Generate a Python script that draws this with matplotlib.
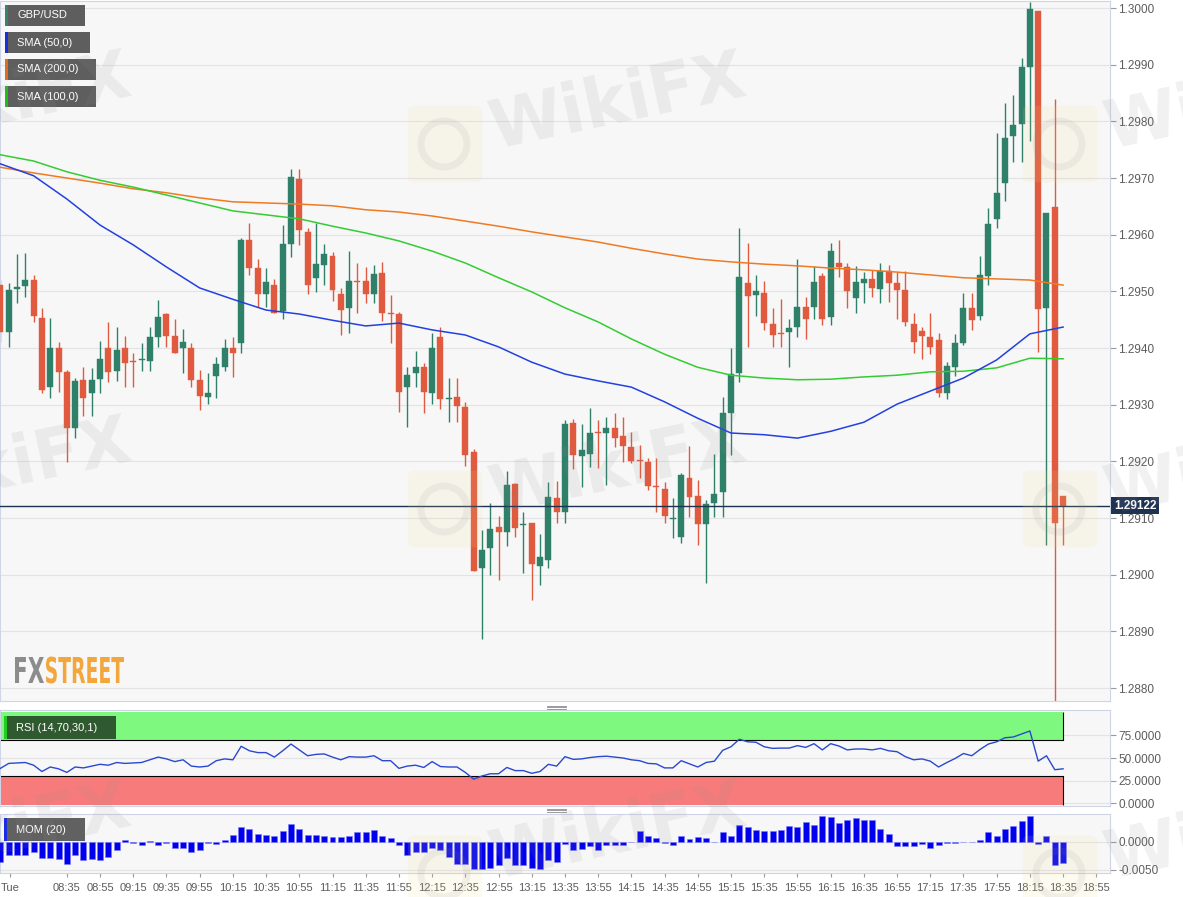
import numpy as np
import matplotlib
matplotlib.use("Agg")
import matplotlib.pyplot as plt
from matplotlib.patches import Rectangle, PathPatch, FancyBboxPatch, Ellipse
from matplotlib.lines import Line2D
from matplotlib.textpath import TextPath
from matplotlib.font_manager import FontProperties
from matplotlib.transforms import Affine2D, blended_transform_factory

plt.rcParams['font.family'] = ['Liberation Sans', 'DejaVu Sans']

# ---- data: GBP/USD 5-minute candles, 07:55 -> 18:35 ----
OPEN = [1.29511, 1.29428, 1.29504, 1.29509, 1.29520, 1.29453, 1.29331, 1.29400, 1.29358, 1.29259,
        1.29344, 1.29321, 1.29345, 1.29400, 1.29359, 1.29400, 1.29377, 1.29379, 1.29377, 1.29419,
        1.29460, 1.29421, 1.29400, 1.29400, 1.29344, 1.29314, 1.29351, 1.29366, 1.29400, 1.29409,
        1.29591, 1.29541, 1.29495, 1.29511, 1.29465, 1.29584, 1.29698, 1.29605, 1.29524, 1.29546,
        1.29562, 1.29495, 1.29471, 1.29518, 1.29518, 1.29495, 1.29532, 1.29462, 1.29460, 1.29331,
        1.29356, 1.29366, 1.29321, 1.29419, 1.29310, 1.29314, 1.29296, 1.29216, 1.29012, 1.29047,
        1.29084, 1.29075, 1.29160, 1.29088, 1.29091, 1.29015, 1.29026, 1.29135, 1.29111, 1.29268,
        1.29209, 1.29213, 1.29252, 1.29250, 1.29259, 1.29245, 1.29225, 1.29202, 1.29199, 1.29156,
        1.29151, 1.29098, 1.29066, 1.29171, 1.29139, 1.29089, 1.29127, 1.29146, 1.29285, 1.29356,
        1.29515, 1.29494, 1.29497, 1.29442, 1.29426, 1.29428, 1.29437, 1.29472, 1.29472, 1.29527,
        1.29455, 1.29550, 1.29543, 1.29488, 1.29515, 1.29522, 1.29504, 1.29536, 1.29515, 1.29502,
        1.29442, 1.29430, 1.29419, 1.29414, 1.29321, 1.29366, 1.29409, 1.29471, 1.29456, 1.29527,
        1.29628, 1.29691, 1.29774, 1.29795, 1.29896, 1.29995, 1.29471, 1.29649, 1.29139]
HIGH = [1.29520, 1.29515, 1.29566, 1.29568, 1.29529, 1.29471, 1.29453, 1.29411, 1.29361, 1.29347,
        1.29366, 1.29365, 1.29412, 1.29446, 1.29437, 1.29421, 1.29391, 1.29409, 1.29437, 1.29485,
        1.29462, 1.29451, 1.29434, 1.29409, 1.29361, 1.29356, 1.29384, 1.29416, 1.29419, 1.29594,
        1.29621, 1.29557, 1.29541, 1.29522, 1.29617, 1.29716, 1.29716, 1.29612, 1.29621, 1.29584,
        1.29569, 1.29506, 1.29571, 1.29550, 1.29543, 1.29546, 1.29552, 1.29494, 1.29464, 1.29366,
        1.29395, 1.29374, 1.29426, 1.29437, 1.29347, 1.29347, 1.29305, 1.29222, 1.29079, 1.29127,
        1.29104, 1.29183, 1.29162, 1.29111, 1.29091, 1.29072, 1.29164, 1.29165, 1.29273, 1.29275,
        1.29266, 1.29294, 1.29273, 1.29278, 1.29285, 1.29278, 1.29252, 1.29229, 1.29206, 1.29206,
        1.29164, 1.29135, 1.29179, 1.29227, 1.29167, 1.29132, 1.29213, 1.29314, 1.29400, 1.29612,
        1.29585, 1.29529, 1.29518, 1.29471, 1.29486, 1.29451, 1.29557, 1.29490, 1.29545, 1.29532,
        1.29585, 1.29591, 1.29550, 1.29545, 1.29534, 1.29538, 1.29550, 1.29546, 1.29534, 1.29536,
        1.29462, 1.29437, 1.29462, 1.29426, 1.29375, 1.29425, 1.29497, 1.29497, 1.29562, 1.29647,
        1.29779, 1.29832, 1.29846, 1.29912, 1.30011, 1.29995, 1.29638, 1.29839, 1.29139]
LOW = [1.29411, 1.29402, 1.29479, 1.29490, 1.29446, 1.29321, 1.29312, 1.29322, 1.29199, 1.29241,
       1.29280, 1.29280, 1.29321, 1.29340, 1.29342, 1.29331, 1.29331, 1.29359, 1.29359, 1.29402,
       1.29402, 1.29391, 1.29356, 1.29331, 1.29291, 1.29301, 1.29312, 1.29359, 1.29349, 1.29391,
       1.29529, 1.29472, 1.29472, 1.29462, 1.29451, 1.29561, 1.29582, 1.29495, 1.29499, 1.29511,
       1.29483, 1.29423, 1.29426, 1.29462, 1.29479, 1.29479, 1.29448, 1.29409, 1.29287, 1.29261,
       1.29331, 1.29285, 1.29301, 1.29292, 1.29269, 1.29269, 1.29192, 1.29006, 1.28886, 1.28999,
       1.28991, 1.29051, 1.29066, 1.29003, 1.28955, 1.28982, 1.29012, 1.29091, 1.29091, 1.29186,
       1.29155, 1.29190, 1.29188, 1.29158, 1.29225, 1.29199, 1.29197, 1.29171, 1.29149, 1.29111,
       1.29091, 1.29065, 1.29056, 1.29102, 1.29052, 1.28985, 1.29102, 1.29102, 1.29211, 1.29340,
       1.29402, 1.29456, 1.29432, 1.29402, 1.29402, 1.29366, 1.29419, 1.29416, 1.29451, 1.29441,
       1.29441, 1.29525, 1.29471, 1.29462, 1.29479, 1.29490, 1.29479, 1.29481, 1.29451, 1.29439,
       1.29391, 1.29381, 1.29389, 1.29314, 1.29310, 1.29351, 1.29405, 1.29432, 1.29449, 1.29511,
       1.29612, 1.29659, 1.29728, 1.29728, 1.29765, 1.29393, 1.29052, 1.28775, 1.29052]
CLOSE = [1.29428, 1.29502, 1.29508, 1.29520, 1.29456, 1.29326, 1.29400, 1.29358, 1.29259, 1.29342,
         1.29312, 1.29344, 1.29381, 1.29358, 1.29396, 1.29374, 1.29375, 1.29381, 1.29419, 1.29455,
         1.29421, 1.29391, 1.29411, 1.29344, 1.29315, 1.29321, 1.29372, 1.29400, 1.29391, 1.29591,
         1.29541, 1.29495, 1.29516, 1.29462, 1.29584, 1.29702, 1.29608, 1.29511, 1.29548, 1.29566,
         1.29502, 1.29467, 1.29518, 1.29516, 1.29495, 1.29531, 1.29462, 1.29460, 1.29322, 1.29352,
         1.29366, 1.29322, 1.29400, 1.29310, 1.29312, 1.29298, 1.29211, 1.29006, 1.29044, 1.29081,
         1.29075, 1.29158, 1.29082, 1.29089, 1.29019, 1.29031, 1.29137, 1.29111, 1.29266, 1.29211,
         1.29220, 1.29250, 1.29250, 1.29259, 1.29241, 1.29227, 1.29201, 1.29201, 1.29156, 1.29155,
         1.29104, 1.29100, 1.29176, 1.29137, 1.29089, 1.29125, 1.29142, 1.29285, 1.29354, 1.29525,
         1.29492, 1.29501, 1.29444, 1.29423, 1.29425, 1.29435, 1.29472, 1.29451, 1.29516, 1.29451,
         1.29571, 1.29543, 1.29501, 1.29516, 1.29522, 1.29506, 1.29536, 1.29515, 1.29502, 1.29446,
         1.29411, 1.29421, 1.29402, 1.29321, 1.29368, 1.29409, 1.29471, 1.29449, 1.29529, 1.29619,
         1.29674, 1.29771, 1.29794, 1.29896, 1.29998, 1.29469, 1.29638, 1.29091, 1.29122]
LAST_PRICE = 1.29122

# moving averages, read every 4th candle
SMA_IDX = list(range(0, 129, 4))
SMA50 = [1.29725, 1.29704, 1.29663, 1.29617, 1.29582, 1.29543, 1.29506, 1.29486, 1.29467, 1.29460,
         1.29449, 1.29439, 1.29444, 1.29432, 1.29423, 1.29402, 1.29375, 1.29354, 1.29342, 1.29331,
         1.29305, 1.29276, 1.29250, 1.29247, 1.29241, 1.29253, 1.29269, 1.29301, 1.29324, 1.29347,
         1.29379, 1.29425, 1.29437]
SMA100 = [1.29741, 1.29730, 1.29711, 1.29696, 1.29684, 1.29670, 1.29656, 1.29642, 1.29635, 1.29628,
          1.29615, 1.29603, 1.29589, 1.29571, 1.29550, 1.29524, 1.29499, 1.29471, 1.29446, 1.29416,
          1.29389, 1.29366, 1.29352, 1.29347, 1.29344, 1.29345, 1.29349, 1.29352, 1.29358, 1.29359,
          1.29365, 1.29382, 1.29381]
SMA200 = [1.29719, 1.29709, 1.29700, 1.29691, 1.29681, 1.29674, 1.29665, 1.29658, 1.29656, 1.29654,
          1.29651, 1.29644, 1.29640, 1.29633, 1.29624, 1.29615, 1.29605, 1.29596, 1.29587, 1.29576,
          1.29566, 1.29557, 1.29552, 1.29548, 1.29545, 1.29541, 1.29538, 1.29534, 1.29529, 1.29524,
          1.29522, 1.29520, 1.29511]

RSI = [38.5, 44, 44.5, 45, 42, 35, 40, 38, 34, 40, 39, 41, 43, 42, 45, 44, 44.5, 45, 48, 51,
       49, 46, 48, 41, 40, 41, 47, 49, 48, 63, 58, 56, 56, 51, 58, 65.5, 59, 52.5, 54, 54.5,
       51, 48, 51.5, 51, 51, 52.5, 47, 47, 38.5, 41, 42, 39.5, 46, 40.5, 40, 40, 34, 26.5, 30, 32.5,
       32.5, 39.5, 36, 36, 33, 35, 43, 41, 51.5, 48.5, 49, 50.5, 51.5, 52, 51, 50, 48, 47, 44, 43.5,
       39, 39, 47, 43.5, 40, 45, 46.5, 58.5, 62.5, 70.8, 68, 67.5, 62.5, 60.7, 61, 61, 63.7, 61.8, 65.9, 59,
       65.9, 63.3, 59, 60, 60, 59, 60.7, 58, 57, 51.5, 48, 49, 46.5, 40, 45, 49.5, 55, 52.5, 59.5, 65.5,
       68, 72.5, 73.3, 76.7, 80, 46.5, 52.5, 37, 38]

MOM = [-0.0035, -0.0024, -0.0024, -0.0023, -0.0018, -0.0029, -0.0029, -0.0030, -0.0039, -0.0024,
       -0.0033, -0.0030, -0.0033, -0.0027, -0.0014, 0.0003, -0.0002, -0.0006, 0.0002, -0.0005,
       -0.0002, -0.0010, -0.0010, -0.0017, -0.0014, -0.0002, -0.0003, 0.0004, 0.0013, 0.0026,
       0.0023, 0.0015, 0.0013, 0.0011, 0.0019, 0.0033, 0.0024, 0.0013, 0.0013, 0.0011,
       0.0009, 0.0009, 0.0011, 0.0018, 0.0018, 0.0021, 0.0010, 0.0007, -0.0006, -0.0023,
       -0.0017, -0.0017, -0.0011, -0.0015, -0.0026, -0.0039, -0.0039, -0.0048, -0.0048, -0.0046,
       -0.0041, -0.0029, -0.0041, -0.0042, -0.0046, -0.0048, -0.0032, -0.0035, -0.0004, -0.0014,
       -0.0013, -0.0008, -0.0014, -0.0006, -0.0006, -0.0006, 0.0000, 0.0020, 0.0011, 0.0008,
       -0.0002, -0.0006, 0.0010, 0.0005, 0.0009, 0.0008, 0.0000, 0.0018, 0.0010, 0.0031,
       0.0026, 0.0021, 0.0019, 0.0019, 0.0022, 0.0028, 0.0026, 0.0036, 0.0030, 0.0047,
       0.0045, 0.0034, 0.0039, 0.0043, 0.0039, 0.0039, 0.0023, 0.0015, -0.0008, -0.0008,
       -0.0008, -0.0004, -0.0010, -0.0006, -0.0002, -0.0002, 0.0000, 0.0000, 0.0003, 0.0017,
       0.0011, 0.0023, 0.0029, 0.0038, 0.0047, -0.0003, 0.0010, -0.0041, -0.0038]

TICK_LABELS = ['08:35', '08:55', '09:15', '09:35', '09:55', '10:15', '10:35', '10:55', '11:15',
               '11:35', '11:55', '12:15', '12:35', '12:55', '13:15', '13:35', '13:55', '14:15',
               '14:35', '14:55', '15:15', '15:35', '15:55', '16:15', '16:35', '16:55', '17:15',
               '17:35', '17:55', '18:15', '18:35', '18:55']
DAY_LABEL = 'Tue'

# ---- colours ----
UP, DOWN = '#2e8069', '#df5a3e'
C50, C100, C200 = '#2340e0', '#33cc33', '#f07a22'
PANEL_BG, GRID, SPINE, TXT = '#f7f7f7', '#e3e3e6', '#cfd4e6', '#5c5c5c'

W, H = 1183, 897
fig = plt.figure(figsize=(W / 100, H / 100), dpi=100)


def frame(x0, y0, x1, y1):
    return [x0 / W, 1 - y1 / H, (x1 - x0) / W, (y1 - y0) / H]


ax = fig.add_axes(frame(0, 1, 1110, 701))
ax_rsi = fig.add_axes(frame(0, 710, 1110, 806))
ax_mom = fig.add_axes(frame(0, 814, 1110, 873))

for a in (ax, ax_rsi, ax_mom):
    a.set_facecolor(PANEL_BG)
    for s in a.spines.values():
        s.set_color(SPINE)
        s.set_linewidth(0.8)
    a.yaxis.tick_right()
    a.tick_params(axis='y', length=4, color='#9a9a9a', labelcolor=TXT, labelsize=8.5, pad=2)
    a.set_xlim(-0.05, 133.65)
    a.grid(axis='y', color=GRID, lw=0.8)
    a.set_axisbelow(True)

# ---- price panel ----
o, h, l, c = map(np.array, (OPEN, HIGH, LOW, CLOSE))
idx = np.arange(len(o))
cols = np.where(c >= o, UP, DOWN)
ax.vlines(idx, l, h, colors=cols, lw=1, zorder=2)
body = np.maximum(np.abs(c - o), 0.00002)
ax.bar(idx, body, bottom=np.minimum(o, c), width=0.72, color=cols, edgecolor=cols, lw=0.3, zorder=3)

ax.plot(SMA_IDX, SMA200, color=C200, lw=1.1, zorder=4)
ax.plot(SMA_IDX, SMA100, color=C100, lw=1.1, zorder=4)
ax.plot(SMA_IDX, SMA50, color=C50, lw=1.1, zorder=4)

ax.axhline(LAST_PRICE, color='#1e3352', lw=1, zorder=5)
ax.set_ylim(1.287771, 1.300124)
ax.set_yticks(np.arange(1.2880, 1.30005, 0.001))
ax.yaxis.set_major_formatter(matplotlib.ticker.FormatStrFormatter('%.4f'))
ax.tick_params(axis='x', bottom=False, labelbottom=False)
tr = blended_transform_factory(ax.transAxes, ax.transData)
ax.text(1.0035, LAST_PRICE, f'{LAST_PRICE:.5f}', transform=tr, color='white', fontsize=8.5,
        fontweight='bold', va='center', ha='left', clip_on=False, zorder=10,
        bbox=dict(boxstyle='square,pad=0.22', fc='#1e3352', ec='none'))

# ---- RSI panel ----
ax_rsi.add_patch(Rectangle((-1, 70), 129, 31, fc='#7ef87e', ec='none', zorder=1))
ax_rsi.add_patch(Rectangle((-1, -2.5), 129, 32.5, fc='#f87b7b', ec='none', zorder=1))
ax_rsi.plot([-1, 128], [70, 70], color='black', lw=0.8, zorder=2)
ax_rsi.plot([-1, 128], [30, 30], color='black', lw=0.8, zorder=2)
ax_rsi.vlines(128, 70, 101, color='black', lw=0.8, zorder=2)
ax_rsi.vlines(128, -2.5, 30, color='black', lw=0.8, zorder=2)
ax_rsi.plot(idx, RSI, color='#2a48d0', lw=1, zorder=3)
ax_rsi.set_ylim(-3.3, 103.3)
ax_rsi.set_yticks([0, 25, 50, 75])
ax_rsi.yaxis.set_major_formatter(matplotlib.ticker.FormatStrFormatter('%.4f'))
ax_rsi.tick_params(axis='x', bottom=False, labelbottom=False)

# ---- Momentum panel ----
ax_mom.bar(idx, MOM, width=0.72, color='#0000ee', edgecolor='#7a7aff', lw=0.4, zorder=3)
ax_mom.set_ylim(-0.00554, 0.0050)
ax_mom.set_yticks([-0.005, 0.0])
ax_mom.yaxis.set_major_formatter(matplotlib.ticker.FormatStrFormatter('%.4f'))
ax_mom.set_xticks([1.2] + list(range(8, 8 + 4 * len(TICK_LABELS), 4)))
ax_mom.set_xticklabels([DAY_LABEL] + TICK_LABELS)
ax_mom.tick_params(axis='x', length=3, color='#9a9a9a', labelcolor=TXT, labelsize=8, pad=4)


# ---- label boxes ----
def label_box(x0, y0, x1, y1, fc, stripe, text):
    fig.add_artist(Rectangle((x0 / W, 1 - y1 / H), (x1 - x0) / W, (y1 - y0) / H,
                             transform=fig.transFigure, fc=fc, ec='none', zorder=20))
    fig.add_artist(Rectangle((x0 / W, 1 - y1 / H), 3 / W, (y1 - y0) / H,
                             transform=fig.transFigure, fc=stripe, ec='none', zorder=21))
    fig.text((x0 + 12) / W, 1 - (y0 + y1) / 2 / H, text, color='white', fontsize=8,
             va='center', ha='left', zorder=22)


label_box(5, 5, 85, 26, '#5e5e5e', '#3a8070', 'GBP/USD')
label_box(5, 32, 90, 53, '#5e5e5e', '#1a2ee0', 'SMA (50,0)')
label_box(5, 59, 96, 80, '#5e5e5e', '#e06c1e', 'SMA (200,0)')
label_box(5, 86, 96, 107, '#5e5e5e', '#22bb22', 'SMA (100,0)')
label_box(4, 716, 116, 739, '#2f5a2f', '#22cc22', 'RSI (14,70,30,1)')
label_box(4, 818, 85, 841, '#616161', '#1a2ee0', 'MOM (20)')

# panel separators
for yy in (707, 810):
    for dy in (-1.5, 0, 1.5):
        fig.add_artist(Line2D([547 / W, 566 / W], [1 - (yy + dy) / H] * 2, color='#8a8a8a', lw=0.6))

# FXSTREET logo (squeezed text)
fp = FontProperties(family='DejaVu Sans', weight='bold')


def squeezed(s, x, base, cap, width, color, alpha=1.0):
    tp = TextPath((0, 0), s, size=cap / 0.729, prop=fp)
    ext = tp.get_extents()
    t = (Affine2D().translate(-ext.x0, 0).scale(width / ext.width, 1).translate(x, H - base)
         + Affine2D().scale(1 / W, 1 / H) + fig.transFigure)
    fig.add_artist(PathPatch(tp, transform=t, fc=color, ec='none', alpha=alpha, zorder=15))


squeezed('FX', 15, 683, 26, 29, '#8c8c8c')
squeezed('STREET', 46, 683, 26, 78, '#f2a63c')

# faint WikiFX watermarks
for ry in (135, 500, 865):
    for cx in (-170, 445, 1060):
        fig.add_artist(FancyBboxPatch(((cx - 30) / W, 1 - (ry + 42) / H), 60 / W, 66 / H,
                                      boxstyle='round,pad=0.006', transform=fig.transFigure,
                                      fc='#f5d98a', ec='none', alpha=0.12, zorder=30))
        fig.add_artist(Ellipse(((cx - 1) / W, 1 - (ry + 9) / H), 46 / W, 46 / H,
                               transform=fig.transFigure, fc='none', ec='#8a8a8a',
                               lw=5, alpha=0.10, zorder=31))
        fig.text((cx + 45) / W, 1 - (ry - 5) / H, 'WikiFX', fontsize=48, fontweight='bold',
                 family='DejaVu Sans', color='#8f8f8f', alpha=0.12, rotation=12,
                 ha='left', va='center', rotation_mode='anchor', zorder=32)

fig.savefig('out.png', dpi=100, facecolor='white')
